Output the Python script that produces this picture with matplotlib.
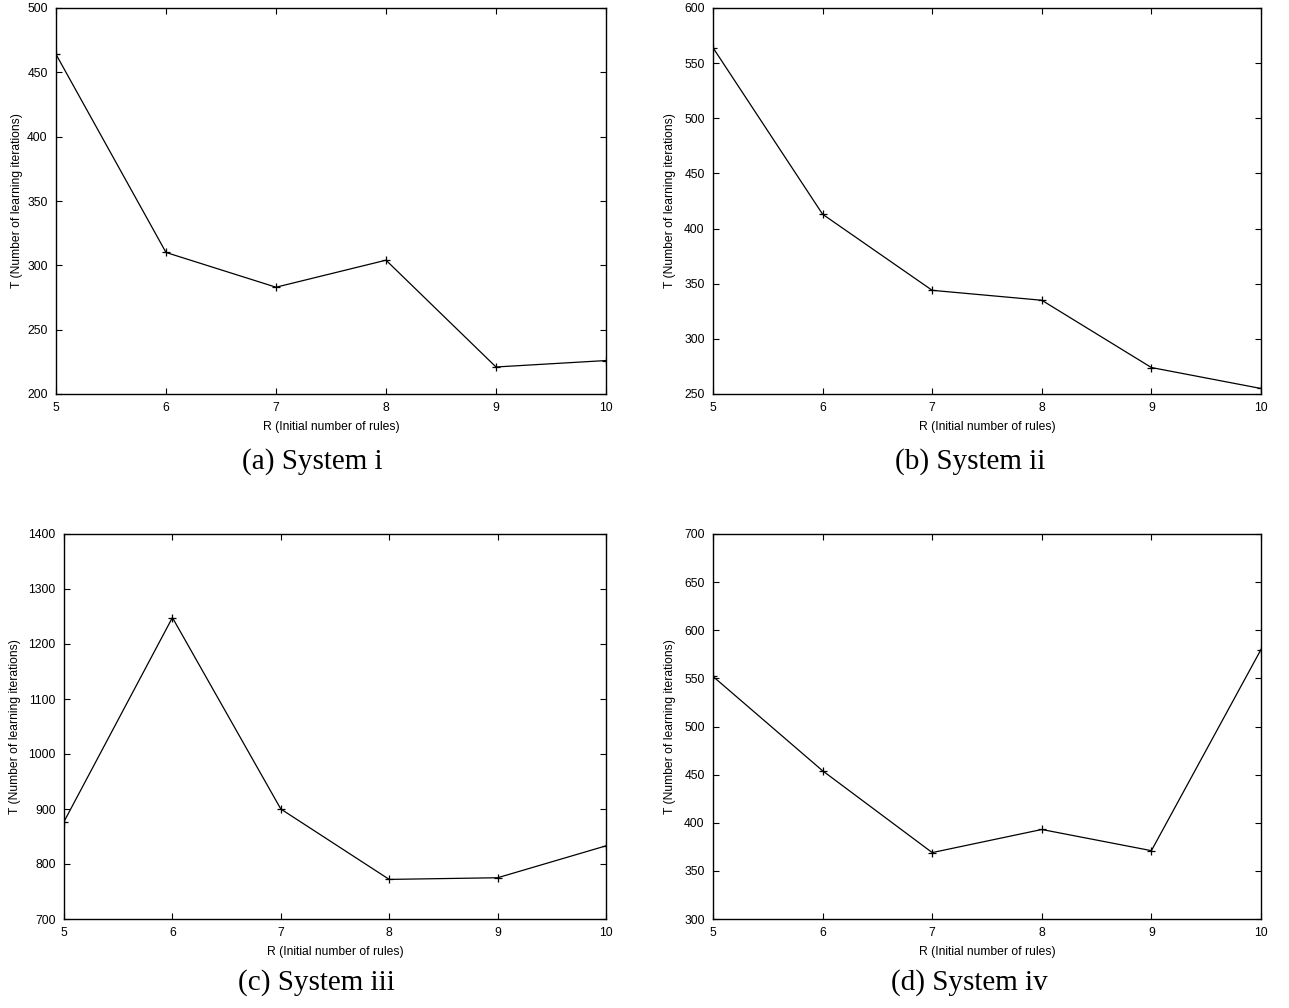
import matplotlib
matplotlib.use("Agg")
import matplotlib.pyplot as plt

R = [5, 6, 7, 8, 9, 10]
T_sys_i = [464, 310, 283, 304, 221, 226]
T_sys_ii = [564, 413, 344, 335, 274, 255]
T_sys_iii = [877, 1248, 900, 772, 775, 833]
T_sys_iv = [552, 454, 369, 393, 371, 580]

captions = ["(a) System i", "(b) System ii", "(c) System iii", "(d) System iv"]
ylims = [(200, 500), (250, 600), (700, 1400), (300, 700)]
ystep = [50, 50, 100, 50]
series = [T_sys_i, T_sys_ii, T_sys_iii, T_sys_iv]

W, H = 1289, 1008
fig = plt.figure(figsize=(W / 100, H / 100), dpi=100)

# pixel boxes: left, right, top, bottom
boxes = [(56, 606, 8, 394), (713, 1261, 8, 394), (64, 606, 534, 919), (713, 1261, 534, 919)]
cap_pos = [(312, 462), (970, 462), (316, 983), (969, 983)]
ylabel_pad = [3, 6, 5, 6]

sans = ["Liberation Sans", "DejaVu Sans"]
serif = ["Liberation Serif", "DejaVu Serif"]

for i in range(4):
    l, r, t, b = boxes[i]
    ax = fig.add_axes([l / W, 1 - b / H, (r - l) / W, (b - t) / H])
    ax.plot(R, series[i], color="black", lw=0.9, marker="+", ms=6, mew=0.9)
    ax.set_xlim(5, 10)
    lo, hi = ylims[i]
    ax.set_ylim(lo, hi)
    ax.set_xticks(R)
    ax.set_yticks(list(range(lo, hi + 1, ystep[i])))
    ax.tick_params(direction="in", top=True, right=True, length=4, width=0.8,
                   labelsize=8.7, pad=6)
    for lab in ax.get_xticklabels() + ax.get_yticklabels():
        lab.set_family(sans)
    for s in ax.spines.values():
        s.set_linewidth(1.0)
    ax.set_xlabel("R (Initial number of rules)", family=sans, fontsize=8.7, labelpad=5)
    ax.set_ylabel("T (Number of learning iterations)", family=sans, fontsize=8.7,
                  labelpad=ylabel_pad[i])
    cx, cy = cap_pos[i]
    fig.text(cx / W, 1 - cy / H, captions[i], family=serif, fontsize=21,
             ha="center", va="center")

fig.savefig("out.png", dpi=100)
